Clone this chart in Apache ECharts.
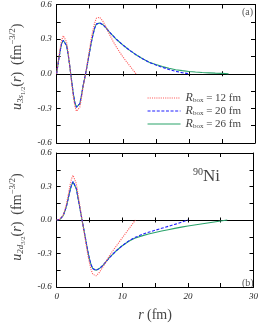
<!DOCTYPE html>
<html><head><meta charset="utf-8">
<script src="https://cdn.jsdelivr.net/npm/echarts@6/dist/echarts.min.js"></script>
<style>html,body{margin:0;padding:0;background:#fff}#c{width:261px;height:323px}</style>
</head><body><div id="c"></div>
<script>
// radial grid (fm)
const rCore = [0,0.25,0.5,0.75,1,1.25,1.5,1.75,2,2.25,2.5,2.75,3,3.25,3.5,3.75,4,4.25,4.5,4.75,5,5.25,5.5,5.75,6,6.25,6.5,7,7.5,8,8.5,9,9.5,10,10.5,11,11.5,12];
const rTail20 = [13,14,15,16,17,18,19,20];
const rTail26 = [13,14,15,16,17,18,19,20,21,22,23,24,25,26];
const boxSizes = [12, 20, 26];
const seriesNames = ['R12', 'R20', 'R26'];

// 3s1/2 wave function (top panel)
const u3s_R12 = [0,0.11,0.21,0.29,0.33,0.325,0.275,0.18,0.06,-0.07,-0.19,-0.28,-0.325,-0.33,-0.29,-0.21,-0.115,-0.04,0.04,0.13,0.22,0.31,0.38,0.44,0.48,0.495,0.49,0.455,0.40,0.34,0.285,0.235,0.19,0.148,0.11,0.073,0.036,0];
const u3s_R20 = [0,0.10,0.19,0.26,0.29,0.285,0.245,0.165,0.06,-0.055,-0.165,-0.25,-0.29,-0.295,-0.26,-0.19,-0.105,-0.035,0.035,0.115,0.195,0.275,0.34,0.395,0.43,0.442,0.442,0.425,0.395,0.36,0.33,0.30,0.275,0.25,0.227,0.205,0.185,0.165,
                 0.13,0.098,0.076,0.056,0.037,0.021,0.009,0];
const u3s_R26 = [0,0.10,0.19,0.26,0.29,0.285,0.245,0.165,0.06,-0.055,-0.165,-0.25,-0.29,-0.295,-0.26,-0.19,-0.105,-0.035,0.035,0.115,0.195,0.275,0.34,0.395,0.43,0.44,0.44,0.425,0.395,0.36,0.33,0.30,0.275,0.25,0.227,0.205,0.185,0.165,
                 0.13,0.10,0.08,0.062,0.047,0.035,0.027,0.02,0.015,0.011,0.008,0.005,0.003,0];

// 2d3/2 wave function (bottom panel)
const u2d_R12 = [0,0.001,0.006,0.02,0.045,0.09,0.145,0.22,0.30,0.365,0.40,0.385,0.325,0.235,0.14,0.045,-0.045,-0.135,-0.225,-0.31,-0.385,-0.445,-0.485,-0.50,-0.50,-0.49,-0.47,-0.425,-0.375,-0.325,-0.28,-0.24,-0.20,-0.16,-0.12,-0.08,-0.04,0];
const u2d_R20 = [0,0.001,0.005,0.018,0.04,0.078,0.125,0.19,0.255,0.31,0.345,0.332,0.28,0.20,0.12,0.04,-0.04,-0.12,-0.20,-0.28,-0.35,-0.40,-0.435,-0.452,-0.452,-0.445,-0.435,-0.41,-0.375,-0.34,-0.31,-0.28,-0.255,-0.23,-0.208,-0.187,-0.17,-0.155,
                 -0.13,-0.11,-0.092,-0.074,-0.057,-0.039,-0.02,0];
const u2d_R26 = [0,0.001,0.005,0.018,0.04,0.078,0.125,0.19,0.255,0.31,0.34,0.33,0.28,0.20,0.12,0.04,-0.04,-0.12,-0.20,-0.28,-0.35,-0.40,-0.435,-0.45,-0.45,-0.445,-0.435,-0.41,-0.375,-0.34,-0.31,-0.28,-0.255,-0.23,-0.21,-0.19,-0.175,-0.162,
                 -0.142,-0.126,-0.112,-0.099,-0.087,-0.075,-0.064,-0.054,-0.045,-0.036,-0.027,-0.018,-0.009,0];

const xTicks = [0, 10, 20, 30];
const yTicks = [-0.6, -0.3, 0.0, 0.3, 0.6];

const rFor = [rCore, rCore.concat(rTail20), rCore.concat(rTail26)];
const pairs = (rs, us) => rs.map((r, i) => [r, us[i]]);

const SERIF = '"Liberation Serif", "DejaVu Serif", serif';
const colors = ['#ff5a5a', '#1f1fff', '#2aa36b'];
const lineTypes = ['dotted', [3, 1.6], 'solid'];

function xAx(grid, pos, zero, opts) {
  const a = {
    type: 'value', gridIndex: grid, position: pos, min: 0, max: 30, interval: 5,
    axisLine: { show: true, onZero: zero, lineStyle: { color: '#000', width: 1 } },
    axisTick: { show: true, inside: !zero, length: zero ? 2.5 : 4, lineStyle: { color: '#000', width: 1 } },
    axisLabel: { show: false },
    splitLine: { show: false }
  };
  if (zero) a.axisLine.onZeroAxisIndex = grid * 2;
  return Object.assign(a, opts || {});
}
function yAx(grid, pos, opts) {
  return Object.assign({
    type: 'value', gridIndex: grid, position: pos, min: -0.6, max: 0.6, interval: 0.15,
    axisLine: { show: true, onZero: false, lineStyle: { color: '#000', width: 1 } },
    axisTick: { show: true, inside: true, length: 4, lineStyle: { color: '#000', width: 1 } },
    axisLabel: { show: false },
    splitLine: { show: false }
  }, opts || {});
}
const yLabel = {
  show: true, margin: 5, fontFamily: SERIF, fontStyle: 'italic', fontSize: 9, color: '#222',
  formatter: v => {
    const hit = yTicks.find(t => Math.abs(t - v) < 1e-6);
    return hit === undefined ? '' : hit.toFixed(1);
  }
};
const nameRich = {
  u: { fontFamily: SERIF, fontStyle: 'italic', fontSize: 14, color: '#444' },
  a: { fontFamily: SERIF, fontStyle: 'italic', fontSize: 9, color: '#444', padding: [6, 0, 0, 0] },
  b: { fontFamily: SERIF, fontSize: 6.5, color: '#444', padding: [11, 0, 0, 0] },
  p: { fontFamily: SERIF, fontSize: 14, color: '#444' },
  r: { fontFamily: SERIF, fontStyle: 'italic', fontSize: 14, color: '#444' },
  c: { fontFamily: SERIF, fontSize: 9, color: '#444', padding: [0, 0, 10, 0] }
};

const series = [];
[0, 1].forEach(g => {
  const sets = g === 0 ? [u3s_R12, u3s_R20, u3s_R26] : [u2d_R12, u2d_R20, u2d_R26];
  sets.forEach((us, k) => {
    series.push({
      type: 'line', name: seriesNames[k], xAxisIndex: g * 4, yAxisIndex: g * 2,
      data: pairs(rFor[k], us), symbol: 'none', symbolSize: 0, showSymbol: false, smooth: false, silent: true,
      lineStyle: { color: colors[k], width: 1.1, type: lineTypes[k] },
      itemStyle: { color: colors[k], opacity: 0 }, z: 3 + (2 - k)
    });
  });
});

const chart = echarts.init(document.getElementById('c'), null, { renderer: 'canvas' });
chart.setOption({
  animation: false,
  backgroundColor: '#fff',
  grid: [
    { left: 47, top: 4, width: 208, height: 139 },
    { left: 47, top: 153, width: 208, height: 138 }
  ],
  xAxis: [
    xAx(0, 'bottom', false), xAx(0, 'top', false), xAx(0, 'bottom', true), xAx(0, 'top', true),
    xAx(1, 'bottom', false, {
      axisLabel: { show: true, margin: 5, fontFamily: SERIF, fontStyle: 'italic', fontSize: 9, color: '#222',
        formatter: v => xTicks.indexOf(v) >= 0 ? String(v) : '' },
      name: '{i|r} {n|(fm)}', nameLocation: 'middle', nameGap: 21,
      nameTextStyle: { rich: {
        i: { fontFamily: SERIF, fontStyle: 'italic', fontSize: 14, color: '#444' },
        n: { fontFamily: SERIF, fontSize: 14, color: '#444' } } }
    }),
    xAx(1, 'top', false), xAx(1, 'bottom', true), xAx(1, 'top', true)
  ],
  yAxis: [
    yAx(0, 'left', { axisLabel: yLabel,
      name: '{u|u}{a|3s}{b|1/2}{p|(}{r|r}{p|)  (fm}{c|−3/2}{p|)}', nameLocation: 'middle', nameRotate: 90, nameGap: 24,
      nameTextStyle: { rich: nameRich, padding: [0, 0, 0, 14] } }),
    yAx(0, 'right'),
    yAx(1, 'left', { axisLabel: yLabel,
      name: '{u|u}{a|2d}{b|3/2}{p|(}{r|r}{p|)  (fm}{c|−3/2}{p|)}', nameLocation: 'middle', nameRotate: 90, nameGap: 24,
      nameTextStyle: { rich: nameRich, padding: [0, 0, 0, 6] } }),
    yAx(1, 'right')
  ],
  legend: {
    orient: 'vertical', left: 142, top: 87, itemWidth: 33, itemHeight: 10, itemGap: 1,
    data: seriesNames, selectedMode: false,
    itemStyle: { opacity: 0, borderWidth: 0 },
    lineStyle: { width: 1.1 },
    formatter: n => '{r|R}{s|box}{t| = ' + boxSizes[seriesNames.indexOf(n)] + ' fm}',
    textStyle: { rich: {
      r: { fontFamily: SERIF, fontStyle: 'italic', fontSize: 12, color: '#444' },
      s: { fontFamily: SERIF, fontSize: 7, color: '#444', padding: [5, 0, 0, 0] },
      t: { fontFamily: SERIF, fontSize: 11, color: '#444' } } }
  },
  graphic: [
    { type: 'text', left: 242, top: 7, silent: true,
      style: { text: '(a)', fontFamily: SERIF, fontSize: 10, fill: '#555' } },
    { type: 'text', left: 242, top: 278, silent: true,
      style: { text: '(b)', fontFamily: SERIF, fontSize: 10, fill: '#555' } },
    { type: 'text', left: 193, top: 167, silent: true,
      style: { text: '{s|90}{n|Ni}', rich: {
        s: { fontFamily: SERIF, fontSize: 10, fill: '#444', padding: [0, 0, 9, 0] },
        n: { fontFamily: SERIF, fontSize: 17, fill: '#444' } } } }
  ],
  series: series
});
</script></body></html>
